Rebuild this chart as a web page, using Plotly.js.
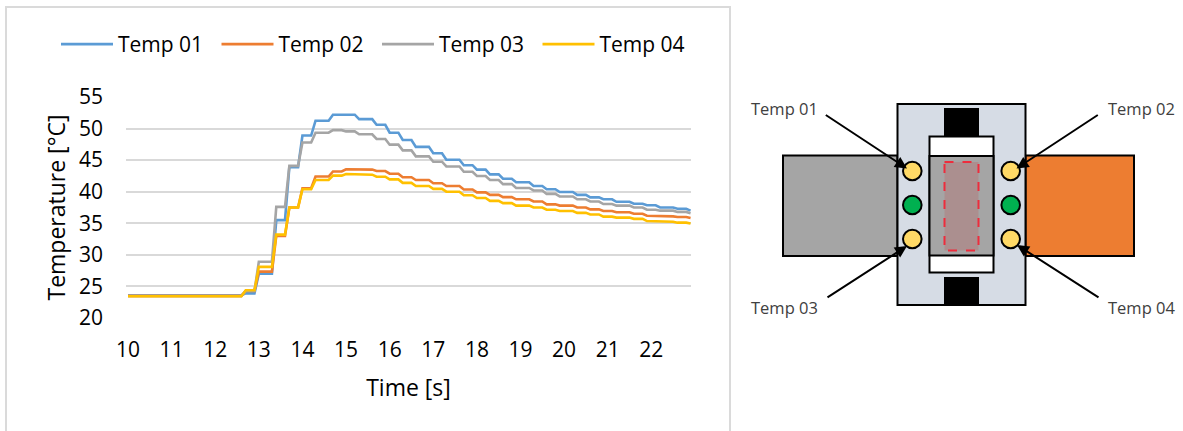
<!DOCTYPE html>
<html><head><meta charset="utf-8">
<script src="https://cdn.plot.ly/plotly-3.0.1.min.js"></script>
<style>html,body{margin:0;padding:0;background:#fff}#c{width:1183px;height:431px}</style>
</head><body><div id="c"></div>
<script>
const segStart=[10,12.7,13.0,13.4,13.7,14.0,14.3,14.7,15.0,15.3,15.7,16.0,16.3,16.6,17.0,17.3,17.7,18.0,18.3,18.6,18.9,19.3,19.6,19.9,20.3,20.6,20.9,21.2,21.6,21.9,22.2,22.6,22.9];
const segEnd=[12.6,12.9,13.3,13.6,13.9,14.2,14.6,14.9,15.2,15.6,15.9,16.2,16.5,16.9,17.2,17.6,17.9,18.2,18.5,18.8,19.2,19.5,19.8,20.2,20.5,20.8,21.1,21.5,21.8,22.1,22.5,22.8,22.9];
const temp01=[23.6,23.9,27.0,35.5,43.9,48.9,51.25,52.2,52.2,51.5,50.6,49.35,48.2,47.1,46.1,45.07,44.2,43.5,42.75,42.06,41.5,40.9,40.4,39.95,39.5,39.1,38.8,38.4,38.1,37.85,37.5,37.3,37.0];
const temp02=[23.5,24.3,27.35,33.0,37.5,40.55,42.4,43.2,43.55,43.5,43.27,42.85,42.3,41.85,41.35,40.9,40.35,39.9,39.5,39.15,38.8,38.45,38.0,37.8,37.5,37.2,36.95,36.75,36.5,36.2,36.1,36.0,35.85];
const temp03=[23.5,24.3,28.9,37.6,44.1,47.8,49.35,49.75,49.55,49.1,48.35,47.45,46.55,45.6,44.75,44.0,43.15,42.5,41.85,41.2,40.6,40.2,39.65,39.25,38.8,38.45,38.05,37.8,37.5,37.15,37.0,36.8,36.6];
const temp04=[23.45,24.4,28.1,33.2,37.5,40.4,41.85,42.55,42.8,42.7,42.37,41.95,41.4,40.9,40.45,40.0,39.45,39.0,38.55,38.2,37.8,37.5,37.15,36.95,36.65,36.4,36.05,35.9,35.7,35.35,35.25,35.1,34.95];
const seriesNames=["Temp 01","Temp 02","Temp 03","Temp 04"];
const seriesColors=["#5B9BD5","#ED7D31","#A5A5A5","#FFC000"];
const xTicks=[10,11,12,13,14,15,16,17,18,19,20,21,22];
const yTicks=[20,25,30,35,40,45,50,55];

const W=1183,H=431,FONT='"Open Sans", sans-serif';
const X=p=>p/W, Y=p=>1-p/H;
const xs=segStart.flatMap((s,i)=>[s,segEnd[i]]);
const traces=[temp01,temp02,temp03,temp04].map((v,i)=>({
  type:'scatter',mode:'lines',name:seriesNames[i],x:xs,y:v.flatMap(d=>[d,d]),
  line:{color:seriesColors[i],width:2.6,shape:'linear'}
}));
const rect=(x0,y0,x1,y1,fill,lw=2,col='#000',dash='solid')=>({type:'rect',xref:'paper',yref:'paper',
  x0:X(x0),x1:X(x1),y0:Y(y0),y1:Y(y1),fillcolor:fill,line:{color:col,width:lw,dash}});
const circ=(cx,cy,r,fill)=>({type:'circle',xref:'paper',yref:'paper',x0:X(cx-r),x1:X(cx+r),y0:Y(cy-r),y1:Y(cy+r),fillcolor:fill,line:{color:'#000',width:2}});
const shapes=[
  rect(6,7,730,445,'rgba(0,0,0,0)',2,'#DADADA'),
  rect(783,155.5,897.5,256,'#A5A5A5'),
  rect(1025.5,155.5,1134,256,'#ED7D31'),
  rect(897.5,104,1025.5,305,'#D6DCE5'),
  rect(944,108,979,137,'#000',0,'#000'),
  rect(944,277,979,305,'#000',0,'#000'),
  rect(929.5,136.5,993.5,272.5,'#fff'),
  rect(929.5,156,993.5,255.5,'#A5A5A5'),
  rect(944.5,162,978.5,250.5,'#AB8F8F',2,'#EE2C3C','dash'),
];
[171,205,239].forEach((cy,i)=>{const f=i===1?'#00B050':'#FFD966';shapes.push(circ(912.3,cy,9.3,f),circ(1010.7,cy,9.3,f));});
const arrow=(x,y,tx,ty)=>({xref:'paper',yref:'paper',x:X(x),y:Y(y),ax:tx-x,ay:ty-y,text:'',showarrow:true,arrowhead:2,arrowsize:1.2,arrowwidth:2,arrowcolor:'#000'});
const label=(t,x,y)=>({xref:'paper',yref:'paper',x:X(x),y:Y(y),text:t,showarrow:false,xanchor:'center',yanchor:'middle',font:{family:FONT,size:16.5,color:'#404040'}});
const annotations=[
  arrow(907,168.5,824.3,114),arrow(1016.5,168.5,1099.3,114),arrow(907,246,826,298.3),arrow(1017,245,1100,298.3),
  label('Temp 01',784,108.5),label('Temp 02',1141.7,108.5),label('Temp 03',784,307.5),label('Temp 04',1141.7,307.5)
];
const layout={
  width:W,height:H,margin:{l:0,r:0,t:0,b:0},paper_bgcolor:'#fff',plot_bgcolor:'#fff',showlegend:true,
  font:{family:FONT,size:21,color:'#000'},
  xaxis:{domain:[X(126),X(691)],range:[9.954,22.91],tickvals:xTicks,ticktext:xTicks.map(String),showgrid:false,zeroline:false,showline:false,ticks:'',
    ticklabelstandoff:17,tickfont:{size:21},automargin:false,title:{text:'Time [s]',font:{size:23},standoff:17}},
  yaxis:{domain:[Y(318),Y(97)],range:[20,55],tickvals:yTicks,ticktext:yTicks.map(String),gridcolor:'#D9D9D9',gridwidth:1.5,zeroline:false,showline:false,ticks:'',
    ticklabelstandoff:22,tickfont:{size:21},automargin:false,title:{text:'Temperature [°C]',font:{size:23},standoff:6}},
  legend:{orientation:'h',x:X(56),y:Y(24),xanchor:'left',yanchor:'top',entrywidth:93.5,entrywidthmode:'pixels',itemwidth:52,font:{size:21},traceorder:'normal',bgcolor:'rgba(0,0,0,0)'},
  shapes,annotations
};
Plotly.newPlot('c',traces,layout,{displayModeBar:false,responsive:false});
</script></body></html>
